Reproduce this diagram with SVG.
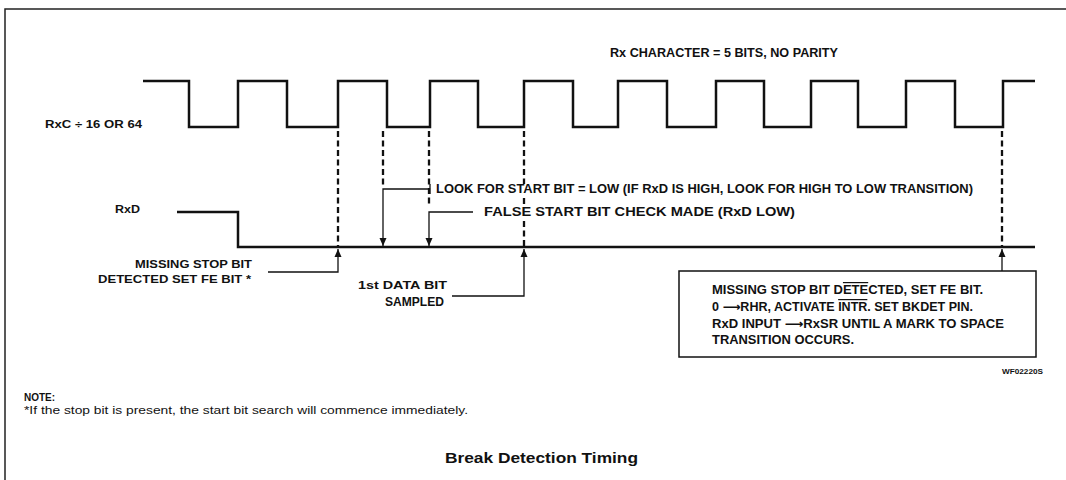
<svg xmlns="http://www.w3.org/2000/svg" width="1066" height="480" viewBox="0 0 1066 480">
<style>
.t{font-family:"Liberation Sans",Arial,sans-serif;font-weight:bold;fill:#111}
.n{font-family:"Liberation Sans",Arial,sans-serif;fill:#111}
.ar{font-family:"DejaVu Sans",sans-serif;font-weight:bold}
.w{fill:none;stroke:#111;stroke-width:2.5}
.d{fill:none;stroke:#111;stroke-width:2.3;stroke-dasharray:6 3.5}
.s{fill:none;stroke:#111;stroke-width:1.3}
.frame{fill:none;stroke:#222;stroke-width:1.5}
</style>
<defs>
<marker id="ah" viewBox="0 0 8 10" refX="8" refY="5" markerWidth="8" markerHeight="10" markerUnits="userSpaceOnUse" orient="auto">
<path d="M0,1.5 L8,5 L0,8.5 Z" fill="#111"/>
</marker>
</defs>
<rect width="1066" height="480" fill="#fff"/>
<path class="frame" d="M5,480 V9 H1066"/>

<g id="title-char">
<text class="t" x="610" y="57" font-size="12" textLength="228" lengthAdjust="spacingAndGlyphs">Rx CHARACTER = 5 BITS, NO PARITY</text>
</g>

<g id="rxc">
<text class="t" x="45" y="128" font-size="11.5" textLength="97" lengthAdjust="spacingAndGlyphs">RxC ÷ 16 OR 64</text>
<path class="w" d="M143,81 H189 V127 H238 V81 H287 V127 H338 V81 H387 V127 H430 V81 H478 V127 H524 V81 H573 V127 H618 V81 H667 V127 H716 V81 H764 V127 H811 V81 H858 V127 H906 V81 H955 V127 H1003 V81 H1035"/>
</g>

<g id="rxd">
<text class="t" x="115" y="213" font-size="11.5" textLength="25" lengthAdjust="spacingAndGlyphs">RxD</text>
<path class="w" d="M177,212 H238 V247 H1035"/>
</g>

<g id="connectors">
<line class="d" x1="338" y1="131" x2="338" y2="246"/>
<line class="d" x1="383" y1="131" x2="383" y2="186"/>
<line class="d" x1="429" y1="131" x2="429" y2="206"/>
<line class="d" x1="524" y1="131" x2="524" y2="184"/>
<line class="d" x1="524" y1="198" x2="524" y2="207"/>
<line class="d" x1="524" y1="221" x2="524" y2="246"/>
<line class="d" x1="1002" y1="131" x2="1002" y2="246"/>

<path class="s" d="M268,272 H338 V249" marker-end="url(#ah)"/>
<path class="s" d="M430,189 H383 V246" marker-end="url(#ah)"/>
<path class="s" d="M473,212 H429 V246" marker-end="url(#ah)"/>
<line class="s" x1="430" y1="184" x2="430" y2="194"/>
<path class="s" d="M452,296 H524 V249" marker-end="url(#ah)"/>
<path class="s" d="M1002,271 V249" marker-end="url(#ah)"/>
</g>

<g id="missing-stop-left">
<text class="t" x="252" y="268" font-size="11.5" text-anchor="end" textLength="117" lengthAdjust="spacingAndGlyphs">MISSING STOP BIT</text>
<text class="t" x="251" y="283" font-size="11.5" text-anchor="end" textLength="153" lengthAdjust="spacingAndGlyphs">DETECTED SET FE BIT *</text>
</g>

<g id="look-for">
<text class="t" x="436" y="193" font-size="12" textLength="537" lengthAdjust="spacingAndGlyphs">LOOK FOR START BIT = LOW (IF RxD IS HIGH, LOOK FOR HIGH TO LOW TRANSITION)</text>
</g>

<g id="false-start">
<text class="t" x="484" y="216" font-size="12" textLength="311" lengthAdjust="spacingAndGlyphs">FALSE START BIT CHECK MADE (RxD LOW)</text>
</g>

<g id="first-data">
<text class="t" x="358" y="289" font-size="11.5" textLength="89" lengthAdjust="spacingAndGlyphs">1st DATA BIT</text>
<text class="t" x="385" y="306" font-size="12" textLength="59" lengthAdjust="spacingAndGlyphs">SAMPLED</text>
</g>

<g id="box">
<rect x="679" y="271" width="357" height="86" fill="none" stroke="#111" stroke-width="1.5"/>
<text class="t" x="712" y="294" font-size="12" textLength="271" lengthAdjust="spacingAndGlyphs">MISSING STOP BIT D<tspan text-decoration="overline">ETE</tspan>CTED, SET FE BIT.</text>
<text class="t" x="712" y="311" font-size="12" textLength="261" lengthAdjust="spacingAndGlyphs">0 <tspan class="ar">⟶</tspan>RHR, ACTIVATE <tspan text-decoration="overline">INTR</tspan>. SET BKDET PIN.</text>
<text class="t" x="712" y="328" font-size="12" textLength="292" lengthAdjust="spacingAndGlyphs">RxD INPUT <tspan class="ar">⟶</tspan>RxSR UNTIL A MARK TO SPACE</text>
<text class="t" x="712" y="344" font-size="12" textLength="142" lengthAdjust="spacingAndGlyphs">TRANSITION OCCURS.</text>
</g>

<g id="ref-code">
<text class="t" x="1043" y="374" font-size="7.5" text-anchor="end" textLength="41" lengthAdjust="spacingAndGlyphs">WF02220S</text>
</g>

<g id="note">
<text class="t" x="24" y="401" font-size="10">NOTE:</text>
<text class="n" x="24" y="414" font-size="10" textLength="444" lengthAdjust="spacingAndGlyphs">*If the stop bit is present, the start bit search will commence immediately.</text>
</g>

<g id="caption">
<text class="t" x="445" y="463" font-size="15" textLength="193" lengthAdjust="spacingAndGlyphs">Break Detection Timing</text>
</g>
</svg>
